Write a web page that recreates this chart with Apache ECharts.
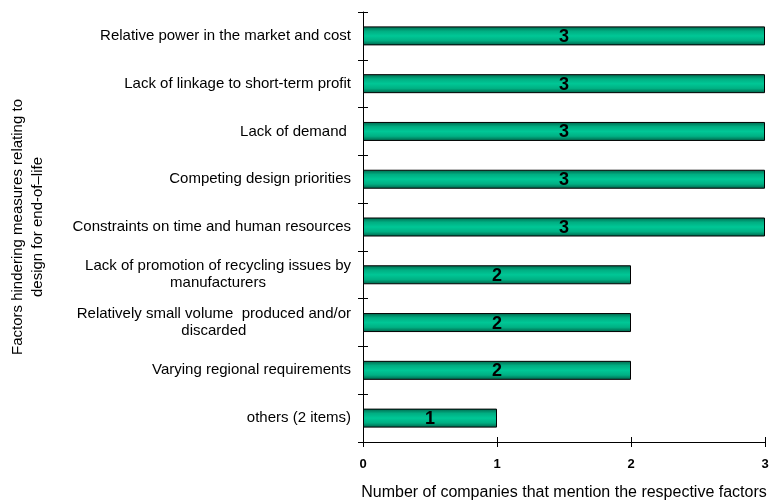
<!DOCTYPE html>
<html>
<head>
<meta charset="utf-8">
<script src="https://cdn.jsdelivr.net/npm/echarts@6/dist/echarts.min.js"></script>
<style>
  html, body { margin: 0; padding: 0; background: #fff; }
  #chart { width: 773px; height: 503px; }
</style>
</head>
<body>
<div id="chart"></div>
<script>
// Factors hindering design for end-of-life, listed top to bottom
const categories = [
  'Relative power in the market and cost',
  'Lack of linkage to short-term profit',
  'Lack of demand ',
  'Competing design priorities',
  'Constraints on time and human resources',
  'Lack of promotion of recycling issues by\nmanufacturers',
  'Relatively small volume  produced and/or\ndiscarded',
  'Varying regional requirements',
  'others (2 items)'
];
const counts = [3, 3, 3, 3, 3, 2, 2, 2, 1];
const xTicks = [0, 1, 2, 3];

const chart = echarts.init(document.getElementById('chart'));
const font = 'Liberation Sans, Arial, sans-serif';

const barFill = new echarts.graphic.LinearGradient(0, 0, 0, 1, [
  { offset: 0, color: '#00664c' },
  { offset: 0.25, color: '#00ae82' },
  { offset: 0.5, color: '#00c796' },
  { offset: 0.75, color: '#00b083' },
  { offset: 1, color: '#005f47' }
]);

const catAxisBase = {
  type: 'category',
  data: categories,
  inverse: true,
  boundaryGap: true
};

chart.setOption({
  animation: false,
  backgroundColor: '#ffffff',
  grid: { left: 363, right: 8, top: 12, bottom: 61, outerBoundsMode: 'none', containLabel: false },
  xAxis: [
    {
      type: 'value',
      min: 0,
      max: 3,
      interval: 1,
      splitLine: { show: false },
      axisLine: { show: true, lineStyle: { color: '#000', width: 1 } },
      axisTick: { show: true, length: 5, lineStyle: { color: '#000' } },
      axisLabel: {
        formatter: v => (xTicks.includes(v) ? String(v) : ''),
        color: '#000',
        fontFamily: font,
        fontSize: 13,
        fontWeight: 'bold',
        margin: 16
      },
      name: 'Number of companies that mention the respective factors',
      nameLocation: 'middle',
      nameGap: 43,
      nameTextStyle: { color: '#000', fontFamily: font, fontSize: 16 }
    },
    {
      // second copy of the value axis draws the inner half of each tick
      type: 'value',
      position: 'bottom',
      min: 0,
      max: 3,
      interval: 1,
      splitLine: { show: false },
      axisLine: { show: false },
      axisTick: { show: true, inside: true, length: 5, lineStyle: { color: '#000' } },
      axisLabel: { show: false }
    }
  ],
  yAxis: [
    Object.assign({}, catAxisBase, {
      axisLine: { show: true, lineStyle: { color: '#000', width: 1 } },
      axisTick: { show: true, length: 5, lineStyle: { color: '#000' } },
      axisLabel: {
        color: '#000',
        fontFamily: font,
        fontSize: 15,
        margin: 12,
        lineHeight: 17,
        formatter: v => v.split('\n').map(s => '{c|' + s + '}').join('\n'),
        rich: { c: { align: 'center', fontFamily: font, fontSize: 15, color: '#000', lineHeight: 17 } }
      },
      name: 'Factors hindering measures relating to\ndesign for end-of–life',
      nameLocation: 'middle',
      nameGap: 315,
      nameRotate: 90,
      nameTextStyle: { color: '#000', fontFamily: font, fontSize: 15, lineHeight: 20, align: 'center' }
    }),
    Object.assign({}, catAxisBase, {
      position: 'left',
      axisLine: { show: false },
      axisTick: { show: true, inside: true, length: 5, lineStyle: { color: '#000' } },
      axisLabel: { show: false }
    })
  ],
  series: [
    {
      type: 'bar',
      xAxisIndex: 0,
      yAxisIndex: 0,
      data: counts,
      barWidth: 19,
      itemStyle: { color: barFill, borderColor: '#000', borderWidth: 1 },
      label: {
        show: true,
        position: 'inside',
        color: '#000',
        fontFamily: font,
        fontSize: 18,
        fontWeight: 'bold',
        offset: [0, 1]
      }
    }
  ]
});
</script>
</body>
</html>
